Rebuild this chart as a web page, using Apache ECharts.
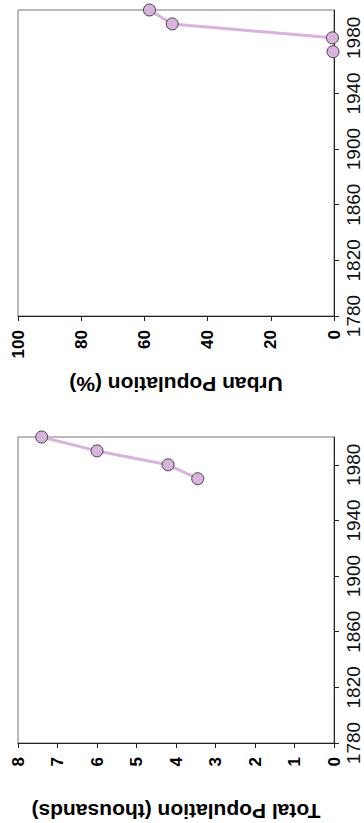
<!DOCTYPE html>
<html><head><meta charset="utf-8">
<script src="https://cdn.jsdelivr.net/npm/echarts@6/dist/echarts.min.js"></script>
<style>html,body{margin:0;padding:0;background:#fff;}#c{width:364px;height:823px;}</style>
</head><body><div id="c"></div>
<script>
// ---- data ----
const yearTicks = [1780, 1820, 1860, 1900, 1940, 1980];
const urbanYears = [1970, 1980, 1990, 2000];
const urbanPct = [0.3, 0.5, 51.2, 58.4];
const urbanLineStartYear = 1980;   // 1970 point is not joined by the line
const totalYears = [1970, 1980, 1990, 2000];
const totalThousands = [3.45, 4.2, 6.0, 7.4];
const urbanName = 'Urban Population (%)';
const totalName = 'Total Population (thousands)';

// ---- styles ----
const FONT = "'Liberation Sans', Arial, sans-serif";
const NARROW = "'Liberation Sans Narrow', 'Liberation Sans', Arial, sans-serif";
const LINE_COLOR = '#d9b3dc';
const POINT_FILL = '#d7b5da';
const POINT_EDGE = '#4b3b52';
const AXIS_COLOR = '#222';

function pairs(xs, ys) { return xs.map((y, i) => [ys[i], y]); }

function xAxisFor(grid, max, interval, name) {
  return {
    gridIndex: grid, type: 'value', min: 0, max: max, interval: interval,
    inverse: true, position: 'bottom',
    name: name, nameLocation: 'middle', nameGap: 58, nameRotate: 180,
    nameTextStyle: { fontFamily: FONT, fontWeight: 'bold', fontSize: 21, color: '#000' },
    axisLine: { show: true, lineStyle: { color: AXIS_COLOR, width: 1 } },
    axisTick: { show: true, length: 5, lineStyle: { color: AXIS_COLOR, width: 1 } },
    axisLabel: { rotate: 90, margin: 14, fontFamily: FONT, fontWeight: 'bold', fontSize: 17, color: '#000' },
    splitLine: { show: false }
  };
}
function yAxisFor(grid) {
  return {
    gridIndex: grid, type: 'value', min: 1780, max: 2000, position: 'right',
    axisLine: { show: true, lineStyle: { color: AXIS_COLOR, width: 1 } },
    axisTick: { show: true, length: 5, customValues: yearTicks, lineStyle: { color: AXIS_COLOR, width: 1 } },
    axisLabel: { customValues: yearTicks, rotate: 90, margin: 10, fontFamily: NARROW, fontSize: 19, color: '#111',
                 formatter: v => String(v) },
    splitLine: { show: false }
  };
}
function gridFor(top) {
  return { left: 18, right: 30, top: top, height: 306, show: true, borderColor: '#777', borderWidth: 1,
           backgroundColor: '#fff', containLabel: false, outerBoundsMode: 'none' };
}
function lineSeries(i, data) {
  return { type: 'line', xAxisIndex: i, yAxisIndex: i, data: data, showSymbol: false, symbol: 'none',
           lineStyle: { color: LINE_COLOR, width: 3 }, clip: false, z: 3, silent: true };
}
function pointSeries(i, data) {
  return { type: 'scatter', xAxisIndex: i, yAxisIndex: i, data: data, symbol: 'circle', symbolSize: 12,
           itemStyle: { color: POINT_FILL, borderColor: POINT_EDGE, borderWidth: 1, opacity: 1 }, clip: false, z: 4, silent: true };
}

const urbanAll = pairs(urbanYears, urbanPct);
const urbanLine = urbanAll.filter(p => p[1] >= urbanLineStartYear);
const totalAll = pairs(totalYears, totalThousands);

const chart = echarts.init(document.getElementById('c'), null, { renderer: 'svg' });
chart.setOption({
  animation: false,
  backgroundColor: '#fff',
  grid: [gridFor(10), gridFor(437)],
  xAxis: [xAxisFor(0, 100, 20, urbanName), xAxisFor(1, 8, 1, totalName)],
  yAxis: [yAxisFor(0), yAxisFor(1)],
  series: [
    lineSeries(0, urbanLine), pointSeries(0, urbanAll),
    lineSeries(1, totalAll), pointSeries(1, totalAll)
  ]
});
</script></body></html>
